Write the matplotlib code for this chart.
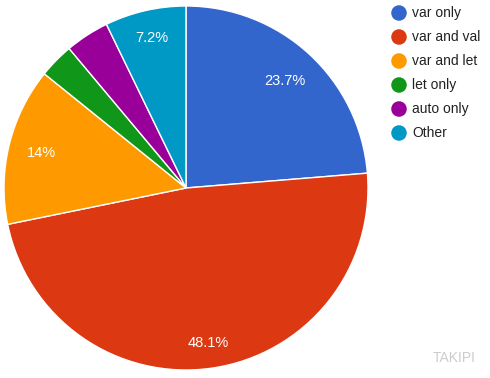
import numpy as np
import matplotlib
matplotlib.use('Agg')
import matplotlib.pyplot as plt

labels = ['var only', 'var and val', 'var and let', 'let only', 'auto only', 'Other']
values = [23.7, 48.1, 14.0, 3.1, 3.9, 7.2]
pct_text = ['23.7%', '48.1%', '14%', '', '', '7.2%']
colors = ['#3366cc', '#dc3912', '#ff9900', '#109618', '#990099', '#0099c6']
label_r = [0.80, 0.86, 0.82, 0.8, 0.8, 0.845]

plt.rcParams['font.family'] = ['Liberation Sans', 'DejaVu Sans']

W, H = 490, 378
fig = plt.figure(figsize=(W / 100, H / 100), dpi=100)

# pie: centre (186,188), radius 182 px
cx, cy, r = 186, 188, 182
ax = fig.add_axes([(cx - r) / W, (H - cy - r) / H, 2 * r / W, 2 * r / H])
wedges, _ = ax.pie(values, colors=colors, startangle=90, counterclock=False,
                   radius=1, wedgeprops=dict(edgecolor='white', linewidth=1))
ax.set_xlim(-1, 1)
ax.set_ylim(-1, 1)
ax.set_aspect('equal')
ax.axis('off')

for w, t, d in zip(wedges, pct_text, label_r):
    if not t:
        continue
    a = np.deg2rad((w.theta1 + w.theta2) / 2)
    ax.text(d * np.cos(a), d * np.sin(a), t, color='white', fontsize=10.5,
            ha='center', va='center')

# legend drawn in pixel coordinates
lax = fig.add_axes([0, 0, 1, 1])
lax.set_xlim(0, W)
lax.set_ylim(H, 0)
lax.axis('off')
for i, (lab, c) in enumerate(zip(labels, colors)):
    y = 13 + i * 24
    lax.scatter([399], [y], s=125, color=c, edgecolors='none')
    lax.text(412, y, lab, fontsize=10, color='#222222', va='center', ha='left')

lax.text(476, 358, 'TAKIPI', fontsize=10, color='#cccccc', ha='right', va='center')

fig.savefig('out.png', dpi=100)
